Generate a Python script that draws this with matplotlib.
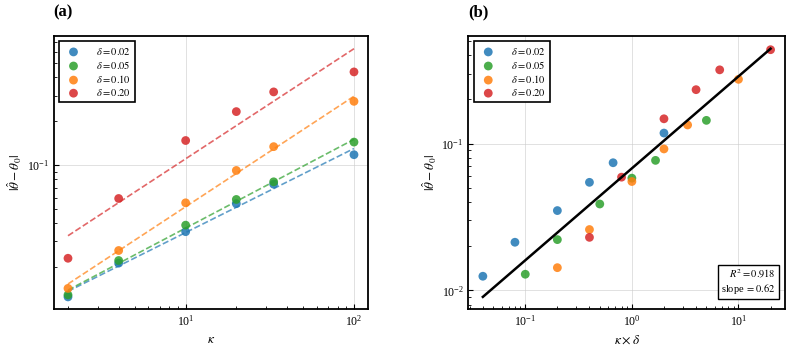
import numpy as np
import matplotlib
matplotlib.use('Agg')
import matplotlib.pyplot as plt

# Style: serif text, stix math
plt.rcParams['font.family'] = ['Liberation Serif', 'DejaVu Serif']
plt.rcParams['mathtext.fontset'] = 'stix'
plt.rcParams['xtick.direction'] = 'in'
plt.rcParams['ytick.direction'] = 'in'

# Data
kappa = np.array([2, 4, 10, 20, 100 / 3, 100])
deltas = [0.02, 0.05, 0.10, 0.20]
labels = [r'$\delta=0.02$', r'$\delta=0.05$', r'$\delta=0.10$', r'$\delta=0.20$']
colors = ['tab:blue', 'tab:green', 'tab:orange', 'tab:red']

err_002 = [0.0125, 0.0213, 0.0350, 0.0545, 0.0741, 0.118]
err_005 = [0.0129, 0.0222, 0.0388, 0.0582, 0.0769, 0.144]
err_010 = [0.0143, 0.0260, 0.0552, 0.0920, 0.134, 0.274]
err_020 = [0.0230, 0.0591, 0.1476, 0.233, 0.318, 0.436]
errors = [err_002, err_005, err_010, err_020]

r2_text = r'$R^2=0.918$' + '\n' + r'slope $=0.62$'

fig = plt.figure(figsize=(7.92, 3.52), dpi=100)
ax1 = fig.add_axes([0.0678, 0.1213, 0.3972, 0.7756])
ax2 = fig.add_axes([0.5915, 0.1213, 0.3996, 0.7756])

def style_axis(ax):
    ax.set_xscale('log')
    ax.set_yscale('log')
    ax.grid(True, which='major', color='#cccccc', alpha=0.6, linewidth=0.7)
    ax.set_axisbelow(True)
    for s in ax.spines.values():
        s.set_linewidth(1.3)
    ax.tick_params(which='major', length=3.5, width=0.8, labelsize=8.5)
    ax.tick_params(which='minor', length=2, width=0.6)

# Panel (a): error vs kappa with per-series power-law fits
for d, err, lab, c in zip(deltas, errors, labels, colors):
    err = np.array(err)
    ax1.scatter(kappa, err, s=40, color=c, alpha=0.85, edgecolors='none', label=lab, zorder=3)
    b, a = np.polyfit(np.log10(kappa), np.log10(err), 1)
    kk = np.array([kappa.min(), kappa.max()])
    ax1.plot(kk, 10 ** a * kk ** b, '--', color=c, alpha=0.7, linewidth=1.2, zorder=2)

style_axis(ax1)
ax1.set_xlabel(r'$\kappa$', fontsize=9.5)
ax1.set_ylabel(r'$|\hat{\theta}-\theta_0|$', fontsize=9.5, labelpad=2)
ax1.set_title('(a)', loc='left', fontweight='bold', fontsize=12, pad=14)
leg = ax1.legend(loc='upper left', fontsize=7.5, fancybox=False, framealpha=1,
                 edgecolor='black', handletextpad=1.2, borderpad=0.4, labelspacing=0.2)
leg.get_frame().set_linewidth(1.2)

# Panel (b): collapse onto kappa*delta with a global fit
all_x = []
all_y = []
for d, err, lab, c in zip(deltas, errors, labels, colors):
    x = kappa * d
    ax2.scatter(x, err, s=40, color=c, alpha=0.85, edgecolors='none', label=lab, zorder=3)
    all_x.extend(x)
    all_y.extend(err)

all_x = np.array(all_x)
all_y = np.array(all_y)
b, a = np.polyfit(np.log10(all_x), np.log10(all_y), 1)
xx = np.array([all_x.min(), all_x.max()])
ax2.plot(xx, 10 ** a * xx ** b, '-', color='black', linewidth=1.8, zorder=4)

style_axis(ax2)
ax2.set_xlabel(r'$\kappa\times\delta$', fontsize=9.5)
ax2.set_ylabel(r'$|\hat{\theta}-\theta_0|$', fontsize=9.5, labelpad=2)
ax2.set_title('(b)', loc='left', fontweight='bold', fontsize=12, pad=14)
leg2 = ax2.legend(loc='upper left', fontsize=7.5, fancybox=False, framealpha=1,
                  edgecolor='black', handletextpad=1.2, borderpad=0.4, labelspacing=0.2)
leg2.get_frame().set_linewidth(1.2)

ax2.text(0.97, 0.05, r2_text, transform=ax2.transAxes, ha='right', va='bottom',
         fontsize=7.5, multialignment='right',
         bbox=dict(boxstyle='square,pad=0.3', facecolor='white', edgecolor='black', linewidth=1.0))

fig.savefig('out.png', dpi=100)
